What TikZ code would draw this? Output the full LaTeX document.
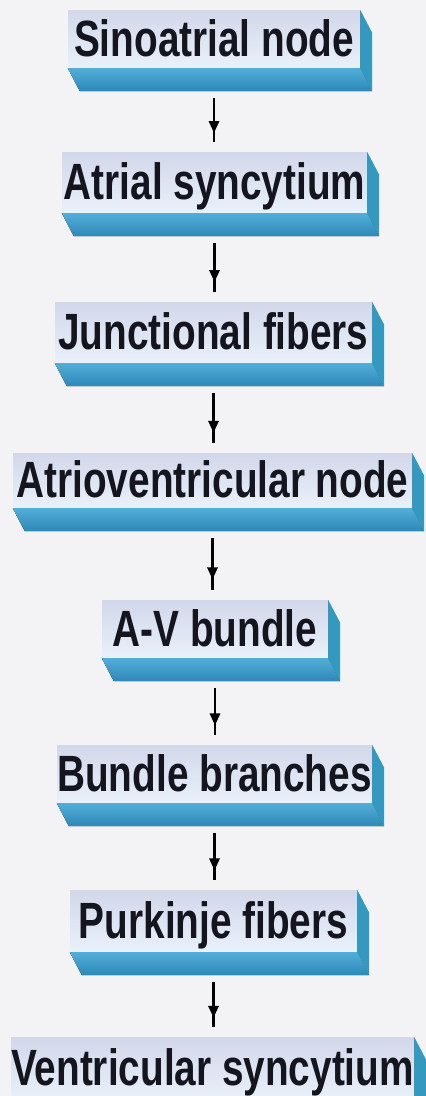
\documentclass[tikz,border=0pt]{standalone}
\usepackage{fontspec}
\newfontfamily\boxfont{Liberation Sans}[FakeStretch=0.76]
\usetikzlibrary{arrows.meta,decorations.markings,calc}
\definecolor{bg}{HTML}{F3F3F6}
\definecolor{facetop}{HTML}{D2D7EA}
\definecolor{facebot}{HTML}{E9F1FA}
\definecolor{bandtop}{HTML}{52AED8}
\definecolor{bandbot}{HTML}{2E88B8}
\definecolor{sideblue}{HTML}{3399BE}
\definecolor{txt}{HTML}{15151F}
\tikzset{
  face/.style={inner sep=0pt, top color=facetop, bottom color=facebot, draw=none,
    font=\boxfont\bfseries\fontsize{51}{51}\selectfont, text=txt,
    text height=34pt, text depth=0pt},
  flow/.style={line width=2.8pt, draw=black, postaction={decorate},
    decoration={markings, mark=at position 0.8 with {\arrow{Triangle[length=12pt,width=10pt]}}}},
}
\newcommand\boxextrude[1]{%
  \fill[top color=bandtop, bottom color=bandbot] (#1.south west) -- (#1.south east)
    -- ($(#1.south east)+(12,23)$) -- ($(#1.south west)+(12,23)$) -- cycle;
  \fill[sideblue] (#1.north east) -- ($(#1.north east)+(12,23)$)
    -- ($(#1.south east)+(12,23)$) -- (#1.south east) -- cycle;
}
\begin{document}
\begin{tikzpicture}[x=1pt,y=-1pt]
\useasboundingbox (0,0) rectangle (426,1096);
\fill[bg] (0,0) rectangle (426,1096);
\clip (0,0) rectangle (426,1096);

\node[face, minimum width=292pt, minimum height=58pt] (n1) at (214,39) {Sinoatrial node};
\node[face, minimum width=305pt, minimum height=61pt] (n2) at (214.5,182.5) {Atrial syncytium};
\node[face, minimum width=317pt, minimum height=61pt] (n3) at (213.5,332.5) {Junctional fibers};
\node[face, minimum width=399pt, minimum height=55pt] (n4) at (212.5,480.5) {Atrioventricular node};
\node[face, minimum width=226pt, minimum height=58pt] (n5) at (215,629) {A-V bundle};
\node[face, minimum width=315pt, minimum height=58pt] (n6) at (214.5,774) {Bundle branches};
\node[face, minimum width=287pt, minimum height=62pt] (n7) at (213.5,921) {Purkinje fibers};
\node[face, minimum width=399pt, minimum height=63pt] (n8) at (212.5,1068.5) {Ventricular syncytium};

\boxextrude{n1}\boxextrude{n2}\boxextrude{n3}\boxextrude{n4}
\boxextrude{n5}\boxextrude{n6}\boxextrude{n7}\boxextrude{n8}

\draw[flow] ([yshift=-30pt]n1.south) -- ([yshift=10pt]n1.south |- n2.north);
\draw[flow] ([yshift=-30pt]n2.south) -- ([yshift=10pt]n2.south |- n3.north);
\draw[flow] ([yshift=-30pt]n3.south) -- ([yshift=10pt]n3.south |- n4.north);
\draw[flow] ([yshift=-30pt]n4.south) -- ([yshift=10pt]n4.south |- n5.north);
\draw[flow] ([yshift=-30pt]n5.south) -- ([yshift=10pt]n5.south |- n6.north);
\draw[flow] ([yshift=-30pt]n6.south) -- ([yshift=10pt]n6.south |- n7.north);
\draw[flow] ([yshift=-30pt]n7.south) -- ([yshift=10pt]n7.south |- n8.north);
\end{tikzpicture}
\end{document}
